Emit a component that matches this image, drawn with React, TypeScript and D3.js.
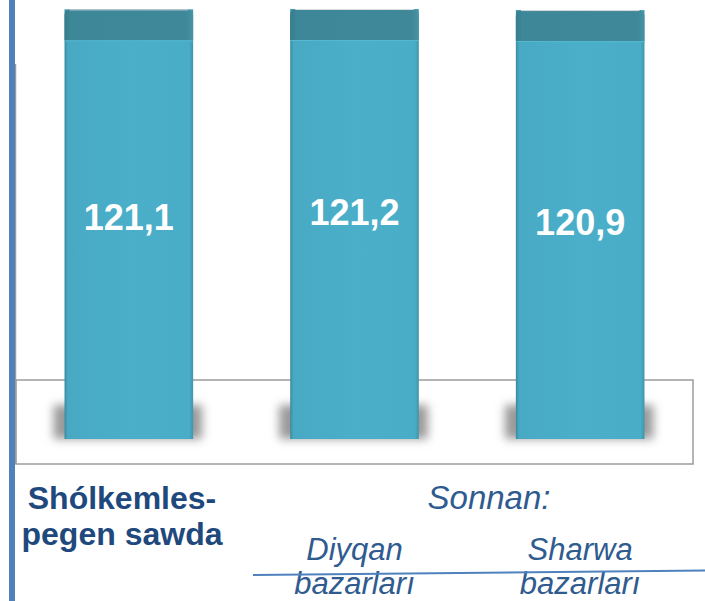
import React from "react";
import * as d3 from "d3";

const categories = ["Shólkemlespegen sawda", "Diyqan bazarları", "Sharwa bazarları"];
const values = [121.1, 121.2, 120.9];
const valueLabels = ["121,1", "121,2", "120,9"];
const labelNudge = [6, 1, 10];

const W = 705;
const H = 601;

export default function App() {
  const x = d3
    .scaleBand<string>()
    .domain(categories)
    .range([16, 693])
    .paddingInner(0.43)
    .paddingOuter(0.215);
  const y = d3.scaleLinear().domain([0, 121.2]).range([439, 9]);
  const bw = x.bandwidth();
  const capH = 31;

  return (
    <svg
      width={W}
      height={H}
      style={{ position: "absolute", left: 0, top: 0, display: "block" }}
      fontFamily="Liberation Sans, Arial, sans-serif"
    >
      <defs>
        <filter id="blur" x="-30%" y="-80%" width="160%" height="260%">
          <feGaussianBlur stdDeviation="5" />
        </filter>
        <linearGradient id="body" x1="0" x2="1" y1="0" y2="0">
          <stop offset="0" stopColor="#3a8a9c" />
          <stop offset="0.025" stopColor="#48a9c3" />
          <stop offset="0.5" stopColor="#4bafc9" />
          <stop offset="0.97" stopColor="#4aadc7" />
          <stop offset="1" stopColor="#3f95a9" />
        </linearGradient>
        <linearGradient id="cap" x1="0" x2="1" y1="0" y2="0">
          <stop offset="0" stopColor="#367d8d" />
          <stop offset="0.05" stopColor="#3d8798" />
          <stop offset="0.95" stopColor="#3e8899" />
          <stop offset="1" stopColor="#4893a4" />
        </linearGradient>
      </defs>
      <rect width={W} height={H} fill="#ffffff" />

      {/* floor */}
      <rect x={16} y={380} width={677} height={84} fill="none" stroke="#9c9c9c" strokeWidth={1.5} />

      {/* shadows */}
      {categories.map((c) => (
        <rect
          key={"s" + c}
          x={(x(c) as number) - 11}
          y={405}
          width={bw + 20}
          height={34}
          fill="#9a9a9a"
          filter="url(#blur)"
        />
      ))}

      {/* bars */}
      {categories.map((c, i) => {
        const bx = x(c) as number;
        const top = y(values[i]);
        const bottom = y(0);
        return (
          <g key={c}>
            <rect x={bx} y={top} width={bw} height={bottom - top} fill="url(#body)" />
            <path
              d={`M${bx},${top + capH} V${top + 6} Q${bx},${top} ${bx + 6},${top} H${bx + bw - 6} Q${bx + bw},${top} ${bx + bw},${top + 6} V${top + capH} Z`}
              fill="url(#cap)"
            />
            <line x1={bx + 5} x2={bx + bw - 5} y1={top + 0.5} y2={top + 0.5} stroke="#dcdcdc" strokeWidth={1} />
            <line x1={bx} x2={bx + bw} y1={top + capH + 0.5} y2={top + capH + 0.5} stroke="#55b8d0" strokeWidth={1} />
            <text
              x={bx + bw / 2}
              y={y(values[i] / 2) + labelNudge[i]}
              textAnchor="middle"
              fill="#ffffff"
              fontWeight="bold"
              fontSize={36}
            >
              {valueLabels[i]}
            </text>
          </g>
        );
      })}

      {/* axes */}
      <line x1={15.5} x2={15.5} y1={64} y2={464} stroke="#9a9a9a" strokeWidth={1.5} />
      <rect x={9} y={0} width={6} height={H} fill="#4f81bd" />

      {/* category labels */}
      <g fill="#1f497d" fontWeight="bold" fontSize={32} textAnchor="middle">
        <text x={122} y={509}>Shólkemles-</text>
        <text x={122} y={545}>pegen sawda</text>
      </g>
      <g fill="#2f5b8f" fontStyle="italic" fontSize={31} textAnchor="middle">
        <text x={489} y={509} fontSize={33}>Sonnan:</text>
        <text x={x(categories[1])! + bw / 2} y={560}>Diyqan</text>
        <text x={x(categories[2])! + bw / 2} y={560}>Sharwa</text>
        <text x={x(categories[1])! + bw / 2} y={594}>bazarları</text>
        <text x={x(categories[2])! + bw / 2} y={594}>bazarları</text>
      </g>
      <line x1={253} y1={575} x2={705} y2={570.5} stroke="#4f81bd" strokeWidth={2} />
    </svg>
  );
}
